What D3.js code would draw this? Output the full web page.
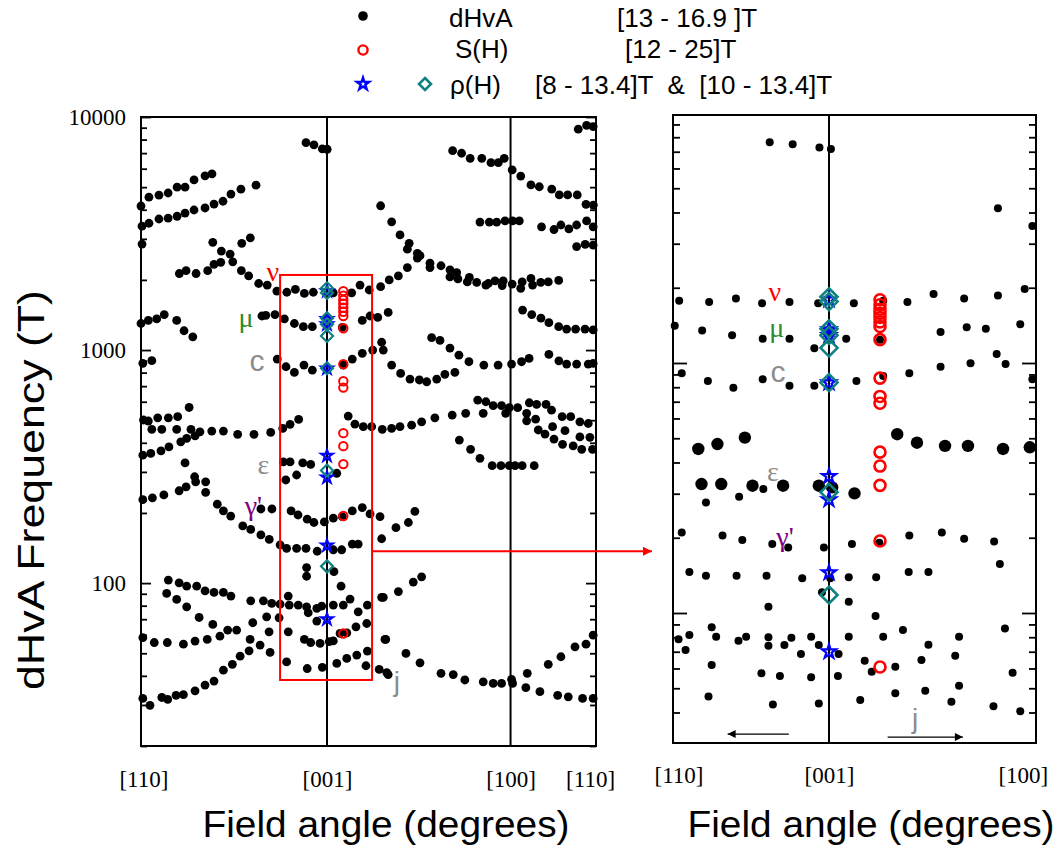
<!DOCTYPE html>
<html><head><meta charset="utf-8">
<script src="https://cdn.jsdelivr.net/npm/d3@7"></script>
<style>body{margin:0;background:#fff}</style>
</head><body><svg id="c" width="1064" height="850"></svg>
<script>
// ---------- DATA: [field angle (deg from [001]), dHvA frequency (T)] ----------
const leftUpper = [[-10.3,7760],[-6.4,7600],[-2.3,7300],[0.1,7270],
[-91.2,4150],[-87.3,4530],[-82.4,4620],[-77.9,4720],[-73.5,5000],[-69.6,5000],[-65.2,5370],[-59.8,5590],[-56.4,5700],
[-90.7,3400],[-87.3,3500],[-82.4,3650],[-77.9,3680],[-73.5,3750],[-69.6,3870],[-65.2,3990],[-59.8,4070],[-55.4,4230],[-51,4350],[-47.1,4670],[-42.2,4900],[-34.8,5100],
[-90.7,2850],
[-72.4,2130],[-69.1,2190],[-64.2,2130],[-58.5,2190],[-55.4,2330],[-52.1,2380],[-56,2900],[-51.8,2660],[-47.5,2580],[-46.2,2390],[-42,2190],[-38.4,2080],[-41.8,2870],[-37.6,3030],
[123.2,8870],[127.3,9200],[130.5,9100],
[61.6,7170],[66,6990],[70.2,6650],[75.9,6650],[80.4,6370],[84,6370],[86.9,6650],[90.8,5930],[95,5580],[100,5110],[104.1,5020],[110.2,4900],[113.9,4630],[118,4630],[122.7,4630],[127,4220],[130.6,4190],
[75,3540],[79.6,3540],[83.2,3540],[87.3,3580],[91,3580],[94.3,3580],
[105.2,3380],[111.3,3290],[114.7,3440],[118.6,3310],[122.4,3440],[127.3,3580],[130.5,3380],
[122.4,2780],[126.6,2840],[130.5,2820],
[26.3,4160],[31.7,3550],[35.8,3120],[40.3,2870],[39.4,2710],[44.3,2600],[45.6,2540],[50.5,2360],[55.9,2300],[60.3,2210],[63.6,2150],
[35,2080],[39.4,2260],[44.3,2480],[50.5,2260],[60.3,2060],[64.2,2020],[69.8,2050],[100,2030]];

const leftMiddle = [[-33.5,1930],[-29.3,1900],[-24.6,1790],[-19.7,1770],[-15.5,1820],[-11.1,1750],[-6.7,1770],
[-31.9,1400],[-30,1410],[-25.5,1420],[-20.9,1360],[-16,1300],[-11.6,1260],[-7.2,1260],
[-91.2,1300],[-87.6,1340],[-83.5,1360],[-79.8,1420],[-73.7,1340],[-70.1,1210],[-65.8,1140],
[68.8,1960],[73.4,1950],[77.9,1900],[82.4,1980],[86.4,1980],[90.8,1920],[95.7,1960],[104.8,1950],[108.5,1960],[113.6,1990],
[3.1,1760],[12.1,1760],[16.2,1900],[20.7,1810],[26.3,1870],[30.5,2000],[79.1,1930],[85.9,1890],[95,1840],[100.8,1900],
[95.9,1485],[100.4,1420],[104.9,1370],[108.8,1310],[113.6,1260],[117.5,1230],[121.9,1230],[126.5,1230],[130.5,1220],
[17.3,1340],[21.1,1400],[24.9,1380],[30,1450],[7.5,1250],[51.3,1130],[55.4,1100],
[26.8,1080],[27.6,1000],[22.4,1000],[17.3,968],[12.4,915],[8,862],
[31.7,862],[36.1,794],[40.7,751],[45.3,744],[48.9,731],[53.8,751],[57.8,787],[62.7,802],
[60.3,1020],[64.7,951],[69.6,891],[76.9,862],[83.9,862],[90.5,871],[95.4,891],[99.1,921],[108.8,958],[113.7,899],[117.5,871],[122.4,871],[128.1,871],[130.5,877],
[-90.3,877],[-85.9,900],[-24.4,915],[-20.1,848],[-16,802],[-11.3,862],[-7.2,820],
[-90,501],[-87.6,496],[-83,512],[-77.8,512],[-73.2,518],[-67.6,567]];

const leftLower = [[10.4,521],[13.7,481],[17.8,469],[21.9,469],[27.1,457],[31.7,461],[35.8,469],[41.5,476],[46.4,492],[52.9,512],[61.4,526],[68,535],[76.6,535],[73.9,610],[77.9,600],[81.5,577],[85.6,577],[87.6,535],[89.4,566],[93.5,566],[97.9,535],[99.2,594],[102.8,585],[107.4,585],[110.1,552],[115.3,518],[119.5,518],[124,492],[128.1,484],[97.9,497],[102.3,505],[103.6,454],[106.9,436],[110.6,469],[111.3,415],[116.7,451],[115.5,394],[120.7,388],[124,424],[124.9,375],[128.9,422],[130.2,375],
[64.9,411],[70.4,375],[75,343],[81,319],[85.3,319],[89.4,319],[92.2,319],[95.7,319],[101.6,319],
[-85.9,457],[-81,457],[-73.7,457],[-66.7,457],[-62.3,446],[-56.5,449],[-50.8,449],[-43.8,435],[-35.8,435],[-27.6,443],[-21.7,461],[-18.1,480],[-13.9,504],
[-90.3,354],[-86.4,360],[-81.4,369],[-77.5,384],[-71.7,404],[-68.8,418],[-64.7,428],
[-21.4,331],[-18.1,331],[-11.9,328],[-8,323],[4.8,296],[-20.2,277],[-14.9,291],
[-69.6,328],[-64.9,286],[-64.4,272],[-59.5,272],[-59.5,245],[-53.8,218],[-50.8,204],[-47.2,194],[-41.3,176],[-37.4,170],[-32.4,161],[-28.3,154],[-23,146],[-19.8,141],[-14.9,141],[-10.3,141],[-4.8,137],
[-90.3,228],[-85.6,232],[-80,239],[-72.5,249],[-69.1,259],
[-32.4,208],[-27,208],[-17.6,204],[-14.2,196],[-9.7,188],[-6.4,182],[-1.3,183],
[3.1,190],[7.5,193],[12.4,204],[17.3,211],[21.1,198],[26,193],[26.8,155],[33.8,173],[39.9,182],[43.1,203],[3.1,139],[7.2,139],[12.4,147],[15.3,147],
[-10,116.6]];

const leftBottom = [[35,92],[42.3,101],[46.4,106.4],[6.9,97],
[3.1,80.5],[8,80.5],[11.3,85.4],[15.3,75.3],[19.8,80.5],[3.1,56.5],[6.4,60.8],[9.7,61.2],[14.2,64.9],[19.5,67.1],[4.8,45.2],[9.7,47.5],[14.6,49.1],[19.8,51.1],[19.1,44.2],[25.6,42.6],[30,40.5],[28.8,57.3],[38.7,49.9],[45.6,45.5],[26.8,86.9],[55.9,41],[61.9,40.5],[67.6,38.4],[76.6,37.7],[81.5,37.1],[85.6,37.1],[90.5,38.6],[91,37.1],[98.2,41],[97.5,35.6],[104.4,34.2],[108.5,44.8],[113.1,33],[114.7,48.3],[118.3,32.5],[121.6,53.3],[125.3,32],[127,54.7],[130.5,32],[130.5,59.8],
[-77.8,103],[-72.5,100.3],[-68.8,97],[-63.9,97],[-59.8,92.7],[-55.4,91.2],[-50.8,91.2],[-47.1,88],
[-78.6,90.3],[-73.7,85.1],[-68.8,79.1],[-62.7,71.2],[-56,66.5],
[-90.3,58.3],[-84.7,55.6],[-78.3,55.6],[-70.4,54.7],[-64.7,56.4],[-58.7,57.3],[-52.5,59.2],[-48.7,62.9],[-44.3,62.9],
[-37.4,83.9],[-31.2,83.9],[-27.1,81.8],[-23,81.2],[-19,88],[-18.5,80.5],[-14.1,80.5],[-10,79.1],[-9.2,74.6],[-5,77.9],[-2.6,79.6],
[-28.4,61.8],[-32.8,54.2],[-37.7,57.3],[-38.2,51.2],[-42.6,48.6],[-46.4,44.8],[-50.8,42.3],[-55.4,38],[-59.8,36.5],[-64.7,34.5],[-70.4,33.2],[-74,33],[-78.1,31.7],[-81,32.3],[-86.8,29.9],[-90.3,32],
[-36.4,67.6],[-29.6,71.7],[-23.5,71],[-19,61.8],[-27.9,50.4],[-19.8,45.9],[-9.7,43],[-2.3,43.5],[-11.1,57.3],[-8,55.6],[-3.4,55.1],[1.1,56.1],[-5,68.7],
[-10,107],[3.4,112],[27.6,86.9],[28.4,57.3],[29.3,41.3]];

// right (zoomed) panel dHvA points
const rightSmall = [[-9.3,7640],[-5.7,7500],[-1.5,7280],[0.3,7170],[26.5,4160],[31.9,3530],
[-23.5,1775],[-18.8,1755],[-14.6,1810],[-10.5,1733],[-6.2,1755],[-1.7,1733],[3.9,1733],[8.5,1775],[12.3,1755],[16.4,1888],[21.2,1810],[26.5,1860],[30.7,1976],
[-24.2,1410],[-19.9,1350],[-15.2,1290],[-10.4,1250],[-6.2,1250],[-2.3,1145],[2.7,1250],[8,1240],[17.5,1330],[21.6,1390],[24.6,1370],[30,1430],[26.3,1086],[27.7,990],
[-23.1,909],[-19,847],[-15,796],[-10.4,861],[-6.2,811],[-2.3,811],[4.3,847],[8.5,887],[12.6,909],[17.5,967],[22.2,997],[31.9,861],
[-10.3,313],[-19.3,277],[-14.1,292],
[-23.1,210],[-16.7,204],[-13.6,196],[-8.9,189],[-6.4,183],[-0.8,183],[3.6,189],[7.9,191],[12.6,204],[17.7,210],[21.2,198],[25.9,193],[26.8,157],
[-21.9,146],[-19.3,141],[-14.5,141],[-9.8,141],[-4.2,137.6],[0.2,137.6],[3.1,139],[7.4,139],[12.5,146],[15.6,146],
[-9.5,106],[-1.1,121],[3.1,111],[7.3,97.3],[27.6,86.7],
[-23.6,78.5],[-21.9,81.7],[-18.4,87.7],[-17.7,80.4],[-14.2,77.5],[-13,80.4],[-9.5,80],[-9.5,74],[-7,74.5],[-5.9,79.6],[-4.4,68.5],[-2.8,80.4],[-1.6,74.5],[1.5,68.5],[3.1,80.4],[5.6,64.4],[6.7,58.2],[8.5,80.4],[10.4,61],[11.6,85.5],[14.5,64.8],[15.6,74.7],[19.8,67.5],[20.4,80.4],
[-22.5,71.1],[-18.4,62],[-10.6,57.4],[-7.7,56],[-2.8,55.3],[1.4,56],
[-18.9,46.3],[-8.8,43.1],[-1.6,43.5],[4.9,44.9],[10.4,47.7],[15.1,48.9],[19.2,44.2],[20.4,51.2],[25.8,42.4],[30,40.5],[28.8,57.7]];
const rightBig = [[-20.5,453],[-17.5,474],[-13.2,503],[10.7,519],[13.8,480],[18.2,466],[21.8,466],[27.3,453],[31.5,460],
[-20,328],[-16.9,328],[-12,323],[-7.2,323],[-1.6,323],[0.5,318],[4,301]];

// thermopower S(H) and resistivity rho(H) frequencies
const sAngle = 8;
const sFreqs = [1790,1710,1640,1580,1520,1460,1400,1240,870,735,690,440,387,324,194,60.8];
const rhoAngle = 0;
const rhoStarFreqs = [1790,1360,1290,834,352,284,145,70];
const rhoDiamondFreqs = [1840,1760,1370,1290,1150,835,304,118];

// axes: tick values & labels
const leftXTickAngles = [-90, 0, 90, 129];
const leftXTickLabels = ["[110]", "[001]", "[100]", "[110]"];
const rightXTickAngles = [-23.6, 0, 30.4];
const rightXTickLabels = ["[110]", "[001]", "[100]"];
const refLinesLeft = [0, 90];
const refLinesRight = [0];
const majorTicks = [10, 100, 1000, 10000];

// branch labels: [text, angle, frequency]
const leftLabels = [["ν",-26.5,2160],["μ",-39.7,1370],["c",-34.3,888],["ε",-31.2,318],["γ'",-36.1,212],["j",34.3,37.6]];
const rightLabels = [["ν",-8.5,1920],["μ",-8.2,1370],["c",-8.0,912],["ε",-8.8,363],["γ'",-6.9,201],["j",13.5,37.3]];
// zoom box on left panel [angle0, angle1, f0, f1] and its arrow frequency
const zoomBox = [-23.0, 22.1, 38.4, 2100];
const zoomArrowFreq = 137;
// direction arrows in right panel [fromAngle, toAngle, freq]
const rightArrows = [[-6.3,-15.9,32.8],[9.2,21.0,31.9]];

// ---------- STYLES ----------
const labelStyle = {
  "ν": {fill:"#ff0000", family:"Liberation Serif, Times New Roman, serif", size:28},
  "μ": {fill:"#2e8b2e", family:"Liberation Serif, Times New Roman, serif", size:28},
  "c": {fill:"#8c8c8c", family:"Liberation Sans, Arial, sans-serif", size:30},
  "ε": {fill:"#8c8c8c", family:"Liberation Serif, Times New Roman, serif", size:28},
  "γ'": {fill:"#800080", family:"Liberation Serif, Times New Roman, serif", size:28},
  "j": {fill:"#8c8c8c", family:"Liberation Sans, Arial, sans-serif", size:28}
};
const SANS = "Liberation Sans, Arial, sans-serif";
const SERIF = "Liberation Serif, Times New Roman, serif";
const TEAL = "#108080";

const svg = d3.select("#c");
svg.append("rect").attr("width",1064).attr("height",850).attr("fill","#fff");

const xL = d3.scaleLinear().domain([-91.2,131.9]).range([141,596]);
const yL = d3.scaleLog().domain([20,10000]).range([746,117]);
const xR = d3.scaleLinear().domain([-24.47,32.47]).range([673,1036]);
const yR = d3.scaleLog().domain([30.2,9817]).range([743,115]);

function minorTicks(y) {
  const [a,b] = y.domain(); const out=[];
  for (const d of [10,100,1000]) for (let k=2;k<=9;k++){const v=k*d; if(v>=a-1e-9&&v<=b) out.push(v);}
  return out;
}
function majors(y){const [a,b]=y.domain(); return majorTicks.filter(v=>v>=a-1e-9&&v<=b+1e-9);}

function drawPanel(x, y, opts) {
  const g = svg.append("g");
  const [x0,x1] = x.range(), [yb,yt] = y.range();
  // vertical reference lines
  g.selectAll("line.ref").data(opts.refs).join("line")
    .attr("x1",d=>x(d)).attr("x2",d=>x(d)).attr("y1",yt).attr("y2",yb)
    .attr("stroke","#000").attr("stroke-width",2);
  // ticks
  const rm = g=>g.select(".domain").remove();
  const style = g=>g.selectAll("line").attr("stroke","#000").attr("stroke-width",1.8);
  g.append("g").attr("transform",`translate(${x0},0)`)
    .call(d3.axisLeft(y).tickValues(minorTicks(y)).tickSize(-opts.minor).tickFormat("")).call(rm).call(style);
  g.append("g").attr("transform",`translate(${x1},0)`)
    .call(d3.axisRight(y).tickValues(minorTicks(y)).tickSize(-opts.minor).tickFormat("")).call(rm).call(style);
  const maj = g.append("g").attr("transform",`translate(${x0},0)`)
    .call(d3.axisLeft(y).tickValues(majors(y)).tickSize(-opts.major).tickPadding(15)
      .tickFormat(opts.yLabels ? d3.format("d") : "")).call(rm).call(style);
  maj.selectAll("text").attr("font-family",SERIF).attr("font-size",23).attr("fill","#000");
  g.append("g").attr("transform",`translate(${x1},0)`)
    .call(d3.axisRight(y).tickValues(majors(y)).tickSize(-opts.major).tickFormat("")).call(rm).call(style);
  // x tick labels
  const xa = g.append("g").attr("transform",`translate(0,${yb})`)
    .call(d3.axisBottom(x).tickValues(opts.xTicks).tickSize(0).tickPadding(opts.xPad)
      .tickFormat((d,i)=>opts.xLabels[i])).call(rm);
  xa.selectAll("text").attr("font-family",SERIF).attr("font-size",23).attr("fill","#000");
  // frame
  g.append("rect").attr("x",x0).attr("y",yt).attr("width",x1-x0).attr("height",yb-yt)
    .attr("fill","none").attr("stroke","#000").attr("stroke-width",2);
  return g;
}

function drawMarkers(g, x, y, dots, big, sc) {
  const all = dots.map(d=>({a:d[0],f:d[1],r:sc.dot}));
  if (big) big.forEach(d=>all.push({a:d[0],f:d[1],r:sc.big}));
  g.append("g").selectAll("circle").data(all).join("circle")
    .attr("cx",d=>x(d.a)).attr("cy",d=>y(d.f)).attr("r",d=>d.r).attr("fill","#000");
  // S(H) open red circles
  g.append("g").selectAll("circle").data(sFreqs).join("circle")
    .attr("cx",x(sAngle)).attr("cy",d=>y(d)).attr("r",sc.circ)
    .attr("fill","none").attr("stroke","#ff0000").attr("stroke-width",sc.cw);
  // rho stars
  const star = d3.symbol().type(d3.symbolStar).size(sc.star);
  g.append("g").selectAll("path").data(rhoStarFreqs).join("path")
    .attr("d",star).attr("transform",d=>`translate(${x(rhoAngle)},${y(d)})`)
    .attr("fill","none").attr("stroke","#0000ff").attr("stroke-width",2.2);
  // rho diamonds
  const s = sc.dia;
  g.append("g").selectAll("path").data(rhoDiamondFreqs).join("path")
    .attr("d",`M0,${-s}L${s},0L0,${s}L${-s},0Z`).attr("transform",d=>`translate(${x(rhoAngle)},${y(d)})`)
    .attr("fill","none").attr("stroke",TEAL).attr("stroke-width",sc.dw);
}

function drawLabels(g, x, y, labels) {
  g.append("g").selectAll("text").data(labels).join("text")
    .attr("x",d=>x(d[1])).attr("y",d=>y(d[2])).attr("dy","0.3em").attr("text-anchor","middle")
    .attr("font-family",d=>labelStyle[d[0]].family).attr("font-size",d=>labelStyle[d[0]].size)
    .attr("fill",d=>labelStyle[d[0]].fill).text(d=>d[0]);
}

// ---------- LEFT PANEL ----------
const gl = drawPanel(xL, yL, {refs:refLinesLeft, minor:6, major:10, yLabels:true,
  xTicks:leftXTickAngles, xLabels:leftXTickLabels, xPad:25});
drawMarkers(gl, xL, yL, leftUpper.concat(leftMiddle, leftLower, leftBottom), null,
  {dot:4.4, big:6, circ:4.2, cw:2, star:40, dia:6, dw:2.2});
drawLabels(gl, xL, yL, leftLabels);
// zoom box + arrow
gl.append("rect").attr("x",xL(zoomBox[0])).attr("y",yL(zoomBox[3]))
  .attr("width",xL(zoomBox[1])-xL(zoomBox[0])).attr("height",yL(zoomBox[2])-yL(zoomBox[3]))
  .attr("fill","none").attr("stroke","#ff0000").attr("stroke-width",2);
const defs = svg.append("defs");
defs.append("marker").attr("id","ahR").attr("viewBox","0 0 10 10").attr("refX",10).attr("refY",5)
  .attr("markerWidth",14).attr("markerHeight",9).attr("markerUnits","userSpaceOnUse").attr("orient","auto")
  .append("path").attr("d","M0,0L10,5L0,10Z").attr("fill","#ff0000");
defs.append("marker").attr("id","ahK").attr("viewBox","0 0 10 10").attr("refX",10).attr("refY",5)
  .attr("markerWidth",20).attr("markerHeight",8).attr("markerUnits","userSpaceOnUse").attr("orient","auto")
  .append("path").attr("d","M0,0L10,5L0,10Z").attr("fill","#000");
gl.append("line").attr("x1",xL(zoomBox[1])).attr("x2",652).attr("y1",yL(zoomArrowFreq)).attr("y2",yL(zoomArrowFreq))
  .attr("stroke","#ff0000").attr("stroke-width",2).attr("marker-end","url(#ahR)");

// ---------- RIGHT PANEL ----------
const gr = drawPanel(xR, yR, {refs:refLinesRight, minor:7, major:14, yLabels:false,
  xTicks:rightXTickAngles, xLabels:rightXTickLabels, xPad:24});
drawMarkers(gr, xR, yR, rightSmall, rightBig,
  {dot:4, big:6.2, circ:5.5, cw:2.6, star:60, dia:8.5, dw:2.6});
drawLabels(gr, xR, yR, rightLabels);
gr.append("g").selectAll("line").data(rightArrows).join("line")
  .attr("x1",d=>xR(d[0])).attr("x2",d=>xR(d[1])).attr("y1",d=>yR(d[2])).attr("y2",d=>yR(d[2]))
  .attr("stroke","#000").attr("stroke-width",1.3).attr("marker-end","url(#ahK)");

// ---------- TITLES ----------
svg.append("text").attr("transform","translate(44,490) rotate(-90)").attr("text-anchor","middle")
  .attr("font-family",SANS).attr("font-size",36).attr("textLength",400).attr("lengthAdjust","spacingAndGlyphs")
  .text("dHvA Frequency (T)");
svg.append("text").attr("x",386).attr("y",837).attr("text-anchor","middle")
  .attr("font-family",SANS).attr("font-size",36).attr("textLength",367).attr("lengthAdjust","spacingAndGlyphs")
  .text("Field angle (degrees)");
svg.append("text").attr("x",871).attr("y",837).attr("text-anchor","middle")
  .attr("font-family",SANS).attr("font-size",36).attr("textLength",367).attr("lengthAdjust","spacingAndGlyphs")
  .text("Field angle (degrees)");

// ---------- LEGEND ----------
const lg = svg.append("g").attr("font-family",SANS).attr("font-size",26).attr("fill","#000");
lg.append("circle").attr("cx",363).attr("cy",16).attr("r",4.8).attr("fill","#000");
lg.append("circle").attr("cx",363).attr("cy",50).attr("r",4.6).attr("fill","none").attr("stroke","#ff0000").attr("stroke-width",2.4);
lg.append("path").attr("d",d3.symbol().type(d3.symbolStar).size(45)).attr("transform","translate(363,84)")
  .attr("fill","none").attr("stroke","#0000ff").attr("stroke-width",2.4);
lg.append("path").attr("d","M0,-6L6,0L0,6L-6,0Z").attr("transform","translate(425,84)")
  .attr("fill","none").attr("stroke",TEAL).attr("stroke-width",2.6);
const legendRows = [["dHvA",449,27,"[13 - 16.9 ]T",617],["S(H)",455,58,"[12 - 25]T",625],["ρ(H)",450,94,"[8 - 13.4]T  &  [10 - 13.4]T",535]];
legendRows.forEach(r=>{
  lg.append("text").attr("x",r[1]).attr("y",r[2]).text(r[0]);
  lg.append("text").attr("x",r[4]).attr("y",r[2]).attr("xml:space","preserve").style("white-space","pre").text(r[3]);
});
</script>
</body></html>
